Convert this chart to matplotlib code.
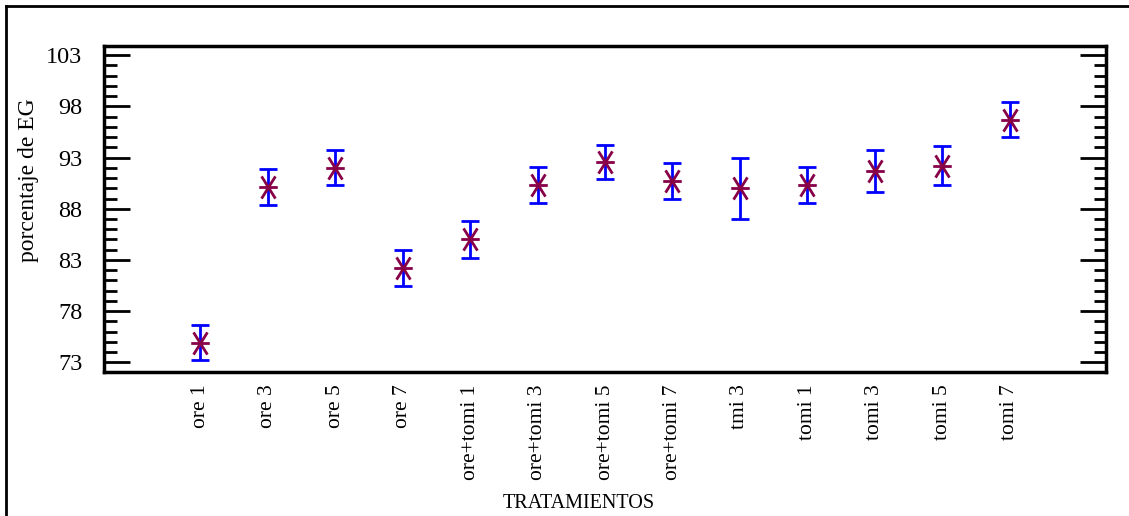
import matplotlib.pyplot as plt
from matplotlib.lines import Line2D
from matplotlib.path import Path

tratamientos = ['ore 1', 'ore 3', 'ore 5', 'ore 7', 'ore+tomi 1', 'ore+tomi 3',
                'ore+tomi 5', 'ore+tomi 7', 'tmi 3', 'tomi 1', 'tomi 3', 'tomi 5', 'tomi 7']
media = [74.9, 90.1, 92.0, 82.2, 85.0, 90.3, 92.6, 90.7, 90.0, 90.3, 91.7, 92.2, 96.7]
error = [1.7, 1.75, 1.7, 1.75, 1.8, 1.75, 1.65, 1.75, 3.0, 1.75, 2.05, 1.9, 1.7]

plt.rcParams['font.family'] = ['Liberation Serif', 'DejaVu Serif']

# asterisk without the vertical arm (the error bar fills that in)
star = Path([(-1, 0), (1, 0), (-0.75, -1.2), (0.75, 1.2), (-0.75, 1.2), (0.75, -1.2)],
            [Path.MOVETO, Path.LINETO, Path.MOVETO, Path.LINETO, Path.MOVETO, Path.LINETO])

fig = plt.figure(figsize=(11.29, 5.16), dpi=100)
ax = fig.add_axes([104 / 1129, 1 - 372 / 516, 1002 / 1129, 326 / 516])

x = list(range(len(tratamientos)))
ax.errorbar(x, media, yerr=error, fmt='none', ecolor='#0000ff', elinewidth=2,
            capsize=6.5, capthick=2, zorder=2)
ax.plot(x, media, linestyle='none', marker=star, markersize=16, markeredgewidth=2,
        color='#870048', zorder=3)

ax.set_xlim(-1.43, 12 + 1.43)
ax.set_ylim(72.05, 103.9)
ax.set_yticks([73, 78, 83, 88, 93, 98, 103])
ax.set_yticks(range(73, 104), minor=True)
ax.set_xticks(x)
ax.set_xticklabels(tratamientos, rotation=90, fontsize=15.5)

for s in ax.spines.values():
    s.set_linewidth(2.5)

ax.tick_params(axis='y', which='both', direction='in', left=True, right=True,
               width=2, labelsize=17.5, pad=15.5)
ax.tick_params(axis='y', which='major', length=19)
ax.tick_params(axis='y', which='minor', length=9)
ax.tick_params(axis='x', length=0, pad=9)

ax.set_ylabel('porcentaje de EG', fontsize=17, va='center')
ax.set_xlabel('TRATAMIENTOS', fontsize=14.5, va='center')
ax.yaxis.set_label_coords(-0.0758, 0.59)
ax.xaxis.set_label_coords(0.474, -0.402)

# outer frame around the figure
fig.add_artist(Line2D([6 / 1129, 6 / 1129], [0, 1 - 6 / 516], color='black', lw=2))
fig.add_artist(Line2D([6 / 1129, 1], [1 - 6 / 516, 1 - 6 / 516], color='black', lw=2))

fig.savefig('out.png', dpi=100)
